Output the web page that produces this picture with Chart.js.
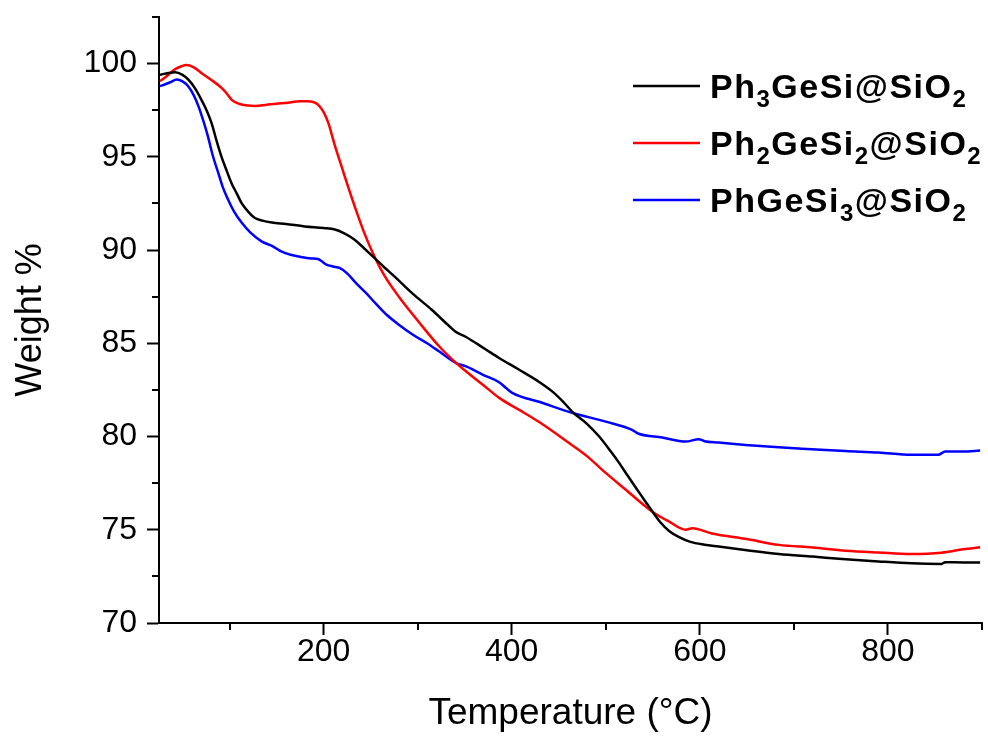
<!DOCTYPE html>
<html>
<head>
<meta charset="utf-8">
<script src="https://cdn.jsdelivr.net/npm/chart.js@4/dist/chart.umd.min.js"></script>
<style>
html,body{margin:0;padding:0;background:#ffffff;}
#wrap{width:988px;height:742px;position:relative;}
canvas{display:block;}
</style>
</head>
<body>
<div id="wrap"><canvas id="c" width="988" height="742"></canvas></div>
<script>
// ---------- data ----------
const seriesLabels = ['Ph₃GeSi@SiO₂', 'Ph₂GeSi₂@SiO₂', 'PhGeSi₃@SiO₂'];
const seriesColors = ['#000000', '#ff0000', '#0000ff'];

const tempPh3 = [26,35,42,50,56,63,70,76,81,86,91.5,97,102,108,113,120,127,135,145,160,180,200,212,222,233,243,254,265,275,295,315,334,341,351,370,387,408,430,443,455,465,480,493,505,514,523,532,541,550,558,567,578,590,605,620,650,684,720,755,790,825,857,861,880,898];
const weightPh3 = [99.4,99.5,99.54,99.4,99.15,98.7,98.07,97.45,96.8,95.9,95.0,94.25,93.6,93.0,92.5,92.05,91.72,91.58,91.48,91.4,91.27,91.18,91.1,90.9,90.56,90.1,89.58,89.05,88.6,87.65,86.8,85.9,85.6,85.35,84.75,84.2,83.58,82.9,82.42,81.85,81.3,80.68,80.0,79.22,78.6,77.92,77.25,76.6,75.95,75.4,74.95,74.6,74.35,74.2,74.1,73.9,73.7,73.56,73.42,73.3,73.2,73.17,73.26,73.25,73.25];

const tempPh2 = [26,30,35,42,49,54,62,70,80,91.5,97,102,110,120,127,140,150,162,175,183,190,194,200,205,212,219,226,233,243,254,265,281,295,310,323,341,351.5,370,387,408,430,461,480,496.5,520,549.5,567,585,592,613,650,684,720,755,790,825,857,880,898];
const weightPh2 = [99.06,99.2,99.4,99.7,99.86,99.92,99.8,99.5,99.15,98.7,98.4,98.07,97.85,97.75,97.73,97.8,97.85,97.9,97.98,97.98,97.92,97.8,97.4,96.82,95.6,94.5,93.4,92.35,90.95,89.66,88.6,87.43,86.53,85.6,84.83,83.94,83.49,82.75,82.06,81.43,80.75,79.65,78.95,78.2,77.2,75.97,75.45,75.0,75.08,74.8,74.5,74.19,74.05,73.88,73.78,73.7,73.77,73.95,74.06];

const tempPh1 = [26,31,37,44,50,56,62,67,72,77,82,88,93,98.5,105,113,122,134,146,155,165,176,187,194,198,203,210,217,225,235,245,256,267,280,295,310,323,341,351.5,370,387,394,401,430,465,500,528,535,560,585,599,605,620,648.5,684,719,755,790,825,853.5,861,880,898];
const weightPh1 = [98.79,98.88,99.0,99.15,99.05,98.79,98.3,97.71,96.95,96.1,95.1,94.14,93.35,92.7,92.05,91.46,90.95,90.47,90.2,89.93,89.75,89.63,89.55,89.52,89.4,89.22,89.12,89.04,88.75,88.2,87.7,87.1,86.53,86.0,85.46,85.0,84.56,83.94,83.76,83.3,82.9,82.6,82.33,81.85,81.26,80.8,80.36,80.15,79.95,79.73,79.86,79.75,79.68,79.55,79.42,79.32,79.22,79.14,79.02,79.02,79.2,79.2,79.25];

const xMajorTicks = [200, 400, 600, 800];
const xMinorTicks = [100, 300, 500, 700, 900];
const yMajorTicks = [70, 75, 80, 85, 90, 95, 100];
const yMinorTicks = [72.5, 77.5, 82.5, 87.5, 92.5, 97.5, 102.5];

// ---------- chart ----------
const FAMILY = '"Liberation Sans", Arial, Helvetica, sans-serif';
Chart.defaults.font.family = FAMILY;
Chart.defaults.color = '#000';

const toPts = (xs, ys) => xs.map((t, i) => ({x: t, y: ys[i]}));
const seriesTemps = [tempPh3, tempPh2, tempPh1];
const seriesWeights = [weightPh3, weightPh2, weightPh1];

const datasets = seriesLabels.map((lab, i) => ({
  label: lab,
  data: toPts(seriesTemps[i], seriesWeights[i]),
  borderColor: seriesColors[i],
  backgroundColor: seriesColors[i],
  borderWidth: 2.5,
  pointRadius: 0,
  cubicInterpolationMode: 'monotone',
  fill: false
}));

const SUB = '₀₁₂₃₄₅₆₇₈₉';
function drawRich(ctx, text, x, y, mainFont, subFont, subDrop) {
  const runs = [];
  for (const ch of text) {
    const k = SUB.indexOf(ch);
    const isSub = k >= 0;
    const c = isSub ? String(k) : ch;
    if (runs.length && runs[runs.length - 1].sub === isSub) runs[runs.length - 1].t += c;
    else runs.push({t: c, sub: isSub});
  }
  for (const r of runs) {
    ctx.font = r.sub ? subFont : mainFont;
    ctx.fillText(r.t, x, r.sub ? y + subDrop : y);
    x += ctx.measureText(r.t).width;
  }
}

const extrasPlugin = {
  id: 'extras',
  afterDraw(chart) {
    const {ctx, chartArea, scales: {x, y}} = chart;
    ctx.save();
    ctx.strokeStyle = '#000';
    ctx.lineWidth = 2;
    xMinorTicks.forEach(v => {
      const px = Math.round(x.getPixelForValue(v));
      ctx.beginPath();
      ctx.moveTo(px, chartArea.bottom);
      ctx.lineTo(px, chartArea.bottom + 7);
      ctx.stroke();
    });
    yMinorTicks.forEach(v => {
      const py = Math.round(y.getPixelForValue(v));
      ctx.beginPath();
      ctx.moveTo(chartArea.left, py);
      ctx.lineTo(chartArea.left - 7, py);
      ctx.stroke();
    });
    // legend (inside plot, top right)
    const lx0 = chartArea.right - 349, lx1 = chartArea.right - 282, tx = chartArea.right - 272;
    const rowY0 = chartArea.top + 69, rowStep = 57;
    chart.data.datasets.forEach((ds, i) => {
      const ry = rowY0 + i * rowStep;
      ctx.strokeStyle = ds.borderColor;
      ctx.lineWidth = 2.5;
      ctx.beginPath();
      ctx.moveTo(lx0, ry);
      ctx.lineTo(lx1, ry);
      ctx.stroke();
      ctx.fillStyle = '#000';
      ctx.textBaseline = 'alphabetic';
      ctx.textAlign = 'left';
      if ('letterSpacing' in ctx) ctx.letterSpacing = '1.5px';
      drawRich(ctx, ds.label, tx, ry + 11.5, 'bold 34px ' + FAMILY, 'bold 24px ' + FAMILY, 9);
    });
    ctx.restore();
  }
};

new Chart(document.getElementById('c'), {
  type: 'line',
  data: {datasets},
  options: {
    responsive: false,
    animation: false,
    devicePixelRatio: 1,
    layout: {padding: {top: 17, right: 6, left: 0, bottom: 0}},
    plugins: {legend: {display: false}, tooltip: {enabled: false}},
    scales: {
      x: {
        type: 'linear',
        min: 25,
        max: 900,
        afterBuildTicks: s => { s.ticks = xMajorTicks.map(v => ({value: v})); },
        afterFit: s => { s.height = 119; s.paddingLeft = 0; s.paddingRight = 0; },
        grid: {drawOnChartArea: false, drawTicks: true, tickLength: 12, tickWidth: 2, tickColor: '#000'},
        border: {display: true, color: '#000', width: 2},
        ticks: {font: {size: 32}, color: '#000', padding: -2, maxRotation: 0, autoSkip: false},
        title: {display: true, text: 'Temperature (°C)', color: '#000', font: {size: 37}, padding: {top: 0, bottom: 6}}
      },
      y: {
        type: 'linear',
        min: 70,
        max: 102.5,
        afterBuildTicks: s => { s.ticks = yMajorTicks.map(v => ({value: v})); },
        afterFit: s => { s.width = 159; s.paddingTop = 0; s.paddingBottom = 0; },
        grid: {drawOnChartArea: false, drawTicks: true, tickLength: 12, tickWidth: 2, tickColor: '#000'},
        border: {display: true, color: '#000', width: 2},
        ticks: {font: {size: 32}, color: '#000', padding: 10, autoSkip: false},
        title: {display: true, text: 'Weight %', color: '#000', font: {size: 36}, padding: {top: 9, bottom: 0}}
      }
    }
  },
  plugins: [extrasPlugin]
});
</script>
</body>
</html>
